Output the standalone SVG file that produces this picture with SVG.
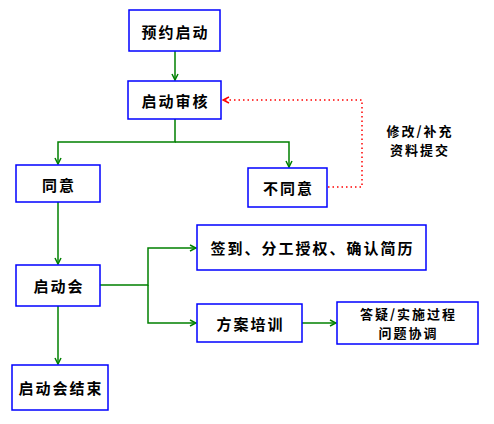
<svg xmlns="http://www.w3.org/2000/svg" width="494" height="424" viewBox="0 0 494 424">
<style>
.box{fill:#fff;stroke:#0000ff;stroke-width:1.5}
.t{font-family:"Noto Sans CJK SC","Liberation Sans",sans-serif;font-size:15px;font-weight:bold;fill:#000;text-anchor:middle;dominant-baseline:central;letter-spacing:2px}
.s{font-size:13px}
.c{fill:none;stroke:#008000;stroke-width:1.5}
.d{fill:none;stroke:#ff0000;stroke-width:1.5;stroke-dasharray:1.5 3}
</style>
<defs>
<marker id="ag" markerWidth="8" markerHeight="8" refX="7" refY="4" orient="auto" markerUnits="userSpaceOnUse">
<path d="M1,1 L7,4 L1,7" fill="none" stroke="#008000" stroke-width="1.5"/>
</marker>
<marker id="ar" markerWidth="8" markerHeight="8" refX="7" refY="4" orient="auto" markerUnits="userSpaceOnUse">
<path d="M1,1 L7,4 L1,7" fill="none" stroke="#ff0000" stroke-width="1.5"/>
</marker>
</defs>
<rect width="494" height="424" fill="#fff"/>
<g id="connectors">
<path class="c" d="M175,51 V80" marker-end="url(#ag)"/>
<path class="c" d="M175,119 V142 H58 V164" marker-end="url(#ag)"/>
<path class="c" d="M175,142 H289 V167" marker-end="url(#ag)"/>
<path class="c" d="M58,202 V264" marker-end="url(#ag)"/>
<path class="c" d="M58,306 V364" marker-end="url(#ag)"/>
<path class="c" d="M100,285 H148 V248 H196" marker-end="url(#ag)"/>
<path class="c" d="M148,285 V323 H196" marker-end="url(#ag)"/>
<path class="c" d="M302,323 H336" marker-end="url(#ag)"/>
<path class="d" d="M328,187 H362 V100 H223" marker-end="url(#ar)"/>
</g>
<g id="n1"><rect class="box" x="129" y="10" width="91" height="41"/><text class="t" x="175.5" y="31">预约启动</text></g>
<g id="n2"><rect class="box" x="128" y="81" width="93" height="38"/><text class="t" x="175.5" y="100">启动审核</text></g>
<g id="n3"><rect class="box" x="16" y="165" width="84" height="37"/><text class="t" x="59" y="184">同意</text></g>
<g id="n4"><rect class="box" x="248" y="168" width="79" height="39"/><text class="t" x="288.5" y="187">不同意</text></g>
<g id="n5"><rect class="box" x="16" y="265" width="84" height="41"/><text class="t" x="59" y="285">启动会</text></g>
<g id="n6"><rect class="box" x="12" y="365" width="96" height="45"/><text class="t" x="61" y="387">启动会结束</text></g>
<g id="n7"><rect class="box" x="197" y="225" width="229" height="45"/><text class="t" x="312.5" y="247">签到、分工授权、确认简历</text></g>
<g id="n8"><rect class="box" x="197" y="304" width="105" height="38"/><text class="t" x="250.5" y="323">方案培训</text></g>
<g id="n9"><rect class="box" x="337" y="302" width="141" height="42"/><text class="t s" x="408.5" y="313.5">答疑/实施过程</text><text class="t s" x="408.5" y="332.5">问题协调</text></g>
<g id="label"><text class="t s" x="420" y="130.5">修改/补充</text><text class="t s" x="420" y="149.5">资料提交</text></g>
</svg>
